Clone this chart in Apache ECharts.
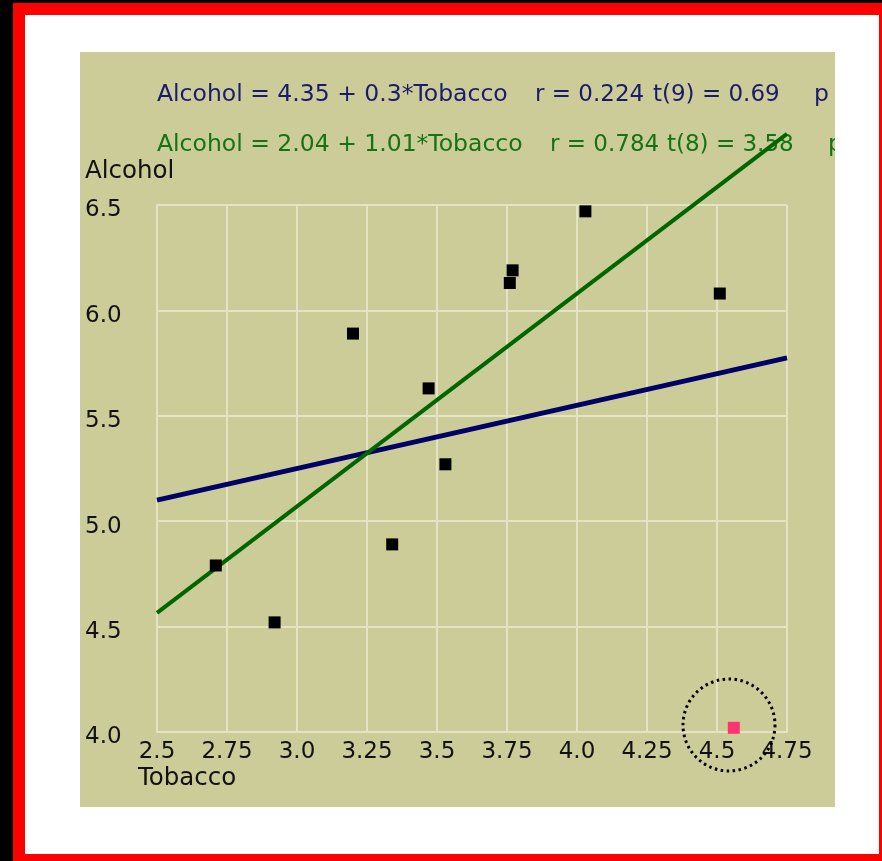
<!DOCTYPE html>
<html>
<head>
<meta charset="utf-8">
<script src="https://cdn.jsdelivr.net/npm/echarts@6/dist/echarts.min.js"></script>
<style>
html,body{margin:0;padding:0;background:#000;}
#c{width:882px;height:861px;}
</style>
</head>
<body>
<div id="c"></div>
<script>
// Data: UK regions, Tobacco vs Alcohol spending
const regions = ['North','Yorkshire','Northeast','East Midlands','West Midlands','East Anglia','Southeast','Southwest','Wales','Scotland','Northern Ireland'];
const tobacco = [4.03, 3.76, 3.77, 3.34, 3.47, 2.92, 3.20, 2.71, 3.53, 4.51, 4.56];
const alcohol = [6.47, 6.13, 6.19, 4.89, 5.63, 4.52, 5.89, 4.79, 5.27, 6.08, 4.02];
const outlierIndex = [10];
const xTickLabels = ['2.5','2.75','3.0','3.25','3.5','3.75','4.0','4.25','4.5','4.75'];
const yTickLabels = ['4.0','4.5','5.0','5.5','6.0','6.5'];
// Regression lines [intercept, slope]
const fitAll = [4.35, 0.30];
const fitNoOutlier = [2.04, 1.01];
const lineRange = [2.5, 4.75];
const eqAll = ['Alcohol = 4.35 + 0.3*Tobacco', 'r = 0.224', 't(9) = 0.69', 'p'];
const eqNo = ['Alcohol = 2.04 + 1.01*Tobacco', 'r = 0.784', 't(8) = 3.58', 'p'];

const normalPts = [], outPts = [];
tobacco.forEach((t, i) => {
  (outlierIndex.includes(i) ? outPts : normalPts).push([t, alcohol[i]]);
});
const lineOf = f => lineRange.map(x => [x, +(f[0] + f[1] * x).toFixed(4)]);

const FONT = '"DejaVu Sans", Verdana, sans-serif';
const chart = echarts.init(document.getElementById('c'), null, {renderer: 'canvas'});

function txt(x, y, s, color, size, z) {
  return {type: 'text', x: x, y: y, z: z || 1,
    style: {text: s, fill: color, font: (size || 23) + 'px ' + FONT, textVerticalAlign: 'middle', textAlign: 'left'}};
}

const BLUE_T = '#1a1a6e', GREEN_T = '#147314';

chart.setOption({
  animation: false,
  backgroundColor: '#000',
  grid: {left: 157, top: 205, width: 630, height: 527},
  xAxis: {
    type: 'value', min: 2.5, max: 4.75, interval: 0.25,
    axisLine: {show: true, lineStyle: {color: '#e4e3c6', width: 2}},
    axisTick: {show: false},
    splitLine: {show: true, lineStyle: {color: '#e4e3c6', width: 2}},
    axisLabel: {
      margin: 9, color: '#111', fontFamily: FONT, fontSize: 23,
      formatter: v => xTickLabels[Math.round((v - 2.5) / 0.25)]
    }
  },
  yAxis: {
    type: 'value', min: 4, max: 6.5, interval: 0.5,
    axisLine: {show: true, lineStyle: {color: '#e4e3c6', width: 2}},
    axisTick: {show: false},
    splitLine: {show: true, lineStyle: {color: '#e4e3c6', width: 2}},
    axisLabel: {
      margin: 72, align: 'left', verticalAlign: 'top', lineHeight: 11,
      color: '#111', fontFamily: FONT, fontSize: 23,
      formatter: v => yTickLabels[Math.round((v - 4) / 0.5)]
    }
  },
  graphic: [
    {type: 'rect', z: -30, shape: {x: 13, y: 3, width: 869, height: 858}, style: {fill: '#ff0000'}},
    {type: 'rect', z: -29, shape: {x: 25, y: 15, width: 854, height: 839}, style: {fill: '#ffffff'}},
    {type: 'rect', z: -28, shape: {x: 80, y: 52, width: 755, height: 755}, style: {fill: '#cccc99'}},
    txt(157, 95, eqAll[0], BLUE_T, 23.5),
    txt(535, 95, eqAll[1], BLUE_T, 23),
    txt(653, 95, eqAll[2], BLUE_T, 23),
    txt(814, 95, eqAll[3], BLUE_T, 23.5),
    txt(157, 145, eqNo[0], GREEN_T, 23.5),
    txt(550, 145, eqNo[1], GREEN_T, 23),
    txt(667, 145, eqNo[2], GREEN_T, 23),
    txt(828, 145, eqNo[3], GREEN_T, 23.5),
    {type: 'rect', z: 50, shape: {x: 835, y: 52, width: 44, height: 760}, style: {fill: '#ffffff'}},
    txt(85, 172, 'Alcohol', '#111', 24.5),
    txt(138, 779, 'Tobacco', '#111', 24.5),
    {type: 'circle', z: 60, shape: {cx: 729, cy: 725, r: 46},
      style: {fill: 'none', stroke: '#000', lineWidth: 3, lineDash: [2.5, 3.5]}}
  ],
  series: [
    {type: 'line', data: lineOf(fitAll), symbol: 'none', clip: false, z: 3,
      lineStyle: {color: '#000066', width: 5}},
    {type: 'line', data: lineOf(fitNoOutlier), symbol: 'none', clip: false, z: 3,
      lineStyle: {color: '#006600', width: 4}},
    {type: 'scatter', data: normalPts, symbol: 'rect', symbolSize: 12, z: 5,
      itemStyle: {color: '#000', opacity: 1}},
    {type: 'scatter', data: outPts, symbol: 'rect', symbolSize: 12, z: 5,
      itemStyle: {color: '#ff3370', opacity: 1}}
  ]
});
</script>
</body>
</html>
